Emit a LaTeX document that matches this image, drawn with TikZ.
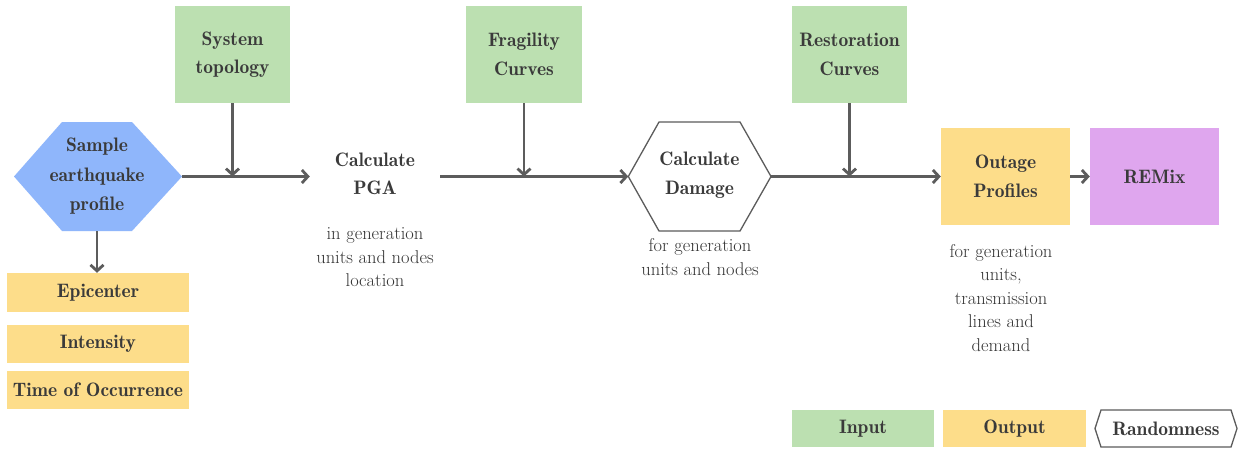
\documentclass[tikz,border=0pt]{standalone}
\usepackage{fontspec}
\newfontfamily\demifont{lmromandemi10-regular.otf}
\usetikzlibrary{arrows.meta}

\definecolor{inputgreen}{HTML}{BCE0B1}
\definecolor{outputyellow}{HTML}{FDDD8A}
\definecolor{sampleblue}{HTML}{8FB6FB}
\definecolor{remixpurple}{HTML}{DFA6EE}
\definecolor{textgrey}{HTML}{3A3A3A}
\definecolor{notegrey}{HTML}{353535}
\definecolor{linegrey}{HTML}{5C5C5C}

\tikzset{
  lbl/.style={inner sep=0pt, align=center, text=textgrey,
    font=\demifont\fontsize{19.5}{28.5}\selectfont},
  note/.style={inner sep=0pt, align=center, text=notegrey,
    font=\fontsize{18.5}{23.5}\selectfont},
  inbox/.style={lbl, fill=inputgreen, minimum width=115pt, minimum height=97pt},
  outbox/.style={lbl, fill=outputyellow},
  arr/.style={draw=linegrey, line width=2.8pt,
    -{Straight Barb[length=6pt,width=13pt,line width=2.8pt]}},
  hexline/.style={draw=linegrey, line width=1.3pt, fill=white},
}

\begin{document}
\begin{tikzpicture}[x=1pt, y=-1pt]
  \path[use as bounding box, fill=white] (0,0) rectangle (1241,456);

  % inputs
  \node[inbox] (topo) at (232.5,54.5) {System\\topology};
  \node[inbox, minimum width=116pt] (frag) at (524,54.5) {Fragility\\Curves};
  \node[inbox] (rest) at (849.5,54.5) {Restoration\\Curves};

  % earthquake sampling hexagon
  \coordinate (sW) at (14,176.5);
  \coordinate (sE) at (182,176.5);
  \fill[sampleblue] (sW) -- (62,122) -- (132,122) -- (sE) -- (132,231) -- (62,231) -- cycle;
  \node[lbl, minimum width=70pt, minimum height=109pt, font=\demifont\fontsize{19.5}{29.5}\selectfont]
    (sample) at (97,176.5) {Sample\\earthquake\\profile};

  % sampled quantities
  \node[outbox, minimum width=182pt, minimum height=39pt] (epic) at (98,292.5) {Epicenter};
  \node[outbox, minimum width=182pt, minimum height=38pt] (inten) at (98,344) {Intensity};
  \node[outbox, minimum width=182pt, minimum height=38pt] (time) at (98,390) {Time of Occurrence};

  % PGA step
  \node[lbl, minimum width=130pt, minimum height=60pt] (pga) at (375,174) {Calculate\\PGA};
  \node[note] (pganote) at (375,257.5) {in generation\\units and nodes\\location};

  % damage hexagon
  \coordinate (dW) at (628.3,176.5);
  \coordinate (dE) at (771,176.5);
  \draw[hexline] (dW) -- (659,122) -- (740,122) -- (dE) -- (740,231) -- (659,231) -- cycle;
  \node[lbl, minimum width=81pt, minimum height=60pt] (dmg) at (699.5,175) {Calculate\\Damage};
  \node[note] (dmgnote) at (700,257) {for generation\\units and nodes};

  % outputs
  \node[outbox, minimum width=129pt, minimum height=97pt] (outage) at (1005.5,176.5) {Outage\\Profiles};
  \node[note] (outnote) at (1001,298) {for generation\\units,\\transmission\\lines and\\demand};
  \node[lbl, fill=remixpurple, minimum width=129pt, minimum height=97pt] (remix) at (1154.5,176.5) {REMix};

  % flow
  \draw[arr] (sE) -- (pga.west |- sE);
  \draw[arr] (topo.south) -- (topo.south |- sE);
  \draw[arr] (pga.east |- dW) -- (dW);
  \draw[arr] (frag.south) -- (frag.south |- dW);
  \draw[arr] (dE) -- (outage.west);
  \draw[arr] (rest.south) -- (rest.south |- dE);
  \draw[arr] (outage.east) -- (remix.west);
  \draw[arr] (sample.south) -- (sample.south |- epic.north);

  % legend
  \node[lbl, fill=inputgreen, minimum width=142pt, minimum height=37pt] (leginput) at (863,428.5) {Input};
  \node[outbox, minimum width=143pt, minimum height=37pt] (legoutput) at (1014.5,428.5) {Output};
  \coordinate (rW) at (1095,428.5);
  \coordinate (rE) at (1237,428.5);
  \draw[hexline] (rW) -- (1101,410) -- (1231,410) -- (rE) -- (1231,447) -- (1101,447) -- cycle;
  \node[lbl, minimum width=130pt, minimum height=37pt] (legrand) at (1166,428.5) {Randomness};
\end{tikzpicture}
\end{document}
